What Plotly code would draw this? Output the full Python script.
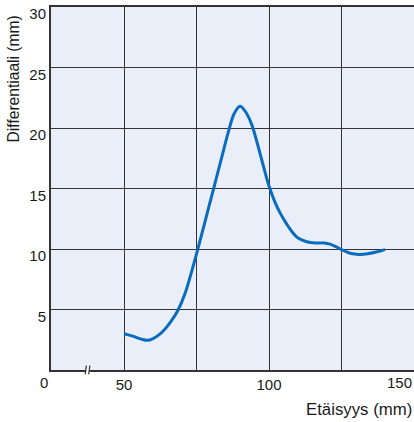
import plotly.graph_objects as go

# Data (distance in mm vs differential in mm)
distance = [50, 53, 56, 58, 60, 62, 64, 66, 68.5, 71, 73.5, 76, 78.5, 81, 83.5, 86, 88, 90,
            92, 94, 96, 98, 100, 102, 104, 106, 108, 110, 113, 116, 119, 121, 123, 125,
            128, 131, 134, 137, 140]
differential = [3.0, 2.8, 2.55, 2.45, 2.6, 2.9, 3.35, 3.95, 4.9, 6.3, 8.3, 10.5, 12.8, 15.1,
                17.4, 19.7, 21.2, 21.8, 21.3, 20.3, 18.7, 16.9, 15.2, 13.9, 12.9, 12.1, 11.4,
                10.9, 10.6, 10.5, 10.5, 10.4, 10.2, 9.95, 9.65, 9.55, 9.6, 9.75, 9.95]

x_tick_vals = [24.8, 50, 75, 100, 125, 150]
x_tick_text = ["", "50", "", "100", "", ""]
y_tick_vals = [5, 10, 15, 20, 25, 30]
y_tick_text = ["5", "10", "15", "20", "25", "30"]

FONT = "Liberation Sans, Arial, Helvetica, sans-serif"

W, H = 414, 422
ML, MR, MT, MB = 51, 0, 7, 51.5
plot_w = W - ML - MR
plot_h = H - MT - MB
XMIN = 24.8  # axis position of the broken-axis "0"

fig = go.Figure()
fig.add_trace(go.Scatter(
    x=distance, y=differential, mode="lines",
    line=dict(color="#0a6cbf", width=3, shape="spline", smoothing=1),
    hoverinfo="skip", showlegend=False,
))

fig.update_layout(
    width=W, height=H,
    margin=dict(l=ML, r=MR, t=MT, b=MB),
    paper_bgcolor="white",
    plot_bgcolor="#e9eef8",
    font=dict(family=FONT, size=15, color="#1a1a1a"),
    xaxis=dict(
        range=[XMIN, 150], tickvals=x_tick_vals, ticktext=x_tick_text,
        showgrid=True, gridcolor="#333333", gridwidth=1,
        showline=True, linecolor="#333333", linewidth=2, mirror=True,
        ticks="", zeroline=False, fixedrange=True,
    ),
    yaxis=dict(
        range=[0, 30], tickvals=y_tick_vals, ticktext=y_tick_text,
        showgrid=True, gridcolor="#333333", gridwidth=1,
        showline=True, linecolor="#333333", linewidth=2,
        ticks="", zeroline=False, fixedrange=True,
        ticklabelshift=7,
    ),
    annotations=[
        dict(text="0", x=(44 - ML) / plot_w, y=0, xref="paper", yref="paper", xanchor="center",
             yanchor="top", showarrow=False, yshift=-2, font=dict(size=15)),
        dict(text="150", x=1, y=0, xref="paper", yref="paper", xanchor="right", yanchor="top",
             showarrow=False, yshift=-2, font=dict(size=15)),
        dict(text="Etäisyys (mm)", x=1, y=(H - MB - 410) / plot_h, xref="paper", yref="paper",
             xanchor="right", yanchor="middle", showarrow=False, font=dict(size=16.8)),
        dict(text="Differentiaali (mm)", x=(13 - ML) / plot_w, y=(H - MB - 79.5) / plot_h,
             xref="paper", yref="paper", xanchor="center", yanchor="middle",
             showarrow=False, textangle=-90, font=dict(size=15.6)),
    ],
    shapes=[
        dict(type="rect", xref="x", yref="paper", x0=36.9, x1=38.1, y0=-0.008, y1=0.008,
             fillcolor="white", line=dict(width=0), layer="above"),
        dict(type="line", xref="x", yref="paper", x0=36.6, x1=37.0, y0=-0.012, y1=0.012,
             line=dict(color="#333333", width=1.2), layer="above"),
        dict(type="line", xref="x", yref="paper", x0=37.8, x1=38.2, y0=-0.012, y1=0.012,
             line=dict(color="#333333", width=1.2), layer="above"),
    ],
)

fig.write_html("out.html", config={"displayModeBar": False})

# remove default body margin so the figure sits at the top-left corner
with open("out.html", encoding="utf-8") as f:
    html = f.read()
html = html.replace("<head>", "<head><style>html,body{margin:0;padding:0;overflow:hidden;}</style>", 1)
with open("out.html", "w", encoding="utf-8") as f:
    f.write(html)
